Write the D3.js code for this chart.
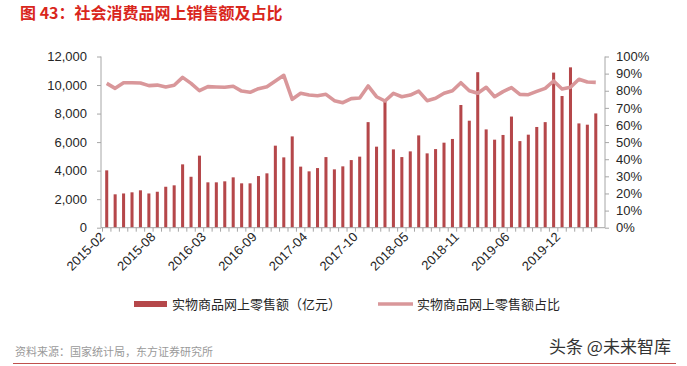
<!DOCTYPE html>
<html><head><meta charset="utf-8">
<script src="https://cdn.jsdelivr.net/npm/d3@7/dist/d3.min.js"></script>
<style>
body{margin:0;background:#fff;}
svg{display:block;font-family:"Liberation Sans",Arial,sans-serif;}
</style></head>
<body>
<svg id="c" width="687" height="366"></svg>
<script>
// ---- data ----
const months = [
 "2015-02","2015-03","2015-04","2015-05","2015-06","2015-07","2015-08","2015-09","2015-10","2015-11","2015-12",
 "2016-02","2016-03","2016-04","2016-05","2016-06","2016-07","2016-08","2016-09","2016-10","2016-11","2016-12",
 "2017-02","2017-03","2017-04","2017-05","2017-06","2017-07","2017-08","2017-09","2017-10","2017-11","2017-12",
 "2018-02","2018-03","2018-04","2018-05","2018-06","2018-07","2018-08","2018-09","2018-10","2018-11","2018-12",
 "2019-02","2019-03","2019-04","2019-05","2019-06","2019-07","2019-08","2019-09","2019-10","2019-11","2019-12",
 "2020-02","2020-03","2020-04","2020-05"];
const salesValues = [
 4020,2340,2400,2480,2620,2400,2520,2870,2970,4440,3570,
 5050,3180,3180,3250,3530,3110,3110,3620,3810,5750,4930,
 6400,4280,3950,4180,4950,4090,4300,4740,4980,7400,5680,
 8950,5490,4950,5350,6470,5210,5510,5960,6220,8600,7500,
 10900,6890,6170,6500,7790,6070,6520,7060,7400,10870,9230,
 11240,7310,7220,8010];
const shareValues = [
 84.3,81.4,84.7,84.7,84.5,83.0,83.3,82.2,83.2,87.8,84.3,
 80.0,82.4,82.2,82.0,82.6,79.8,79.1,81.2,82.4,85.7,89.0,
 75.0,78.5,77.5,77.1,77.9,74.2,73.0,75.4,75.8,82.8,76.5,
 74.0,78.5,76.5,77.5,79.8,74.2,75.6,78.5,80.0,84.7,80.0,
 78.5,82.0,76.5,79.5,81.8,77.9,77.7,79.6,81.4,85.7,81.0,
 82.0,86.7,85.1,84.9];
const leftTicks = [0,2000,4000,6000,8000,10000,12000];
const rightTicks = [0,10,20,30,40,50,60,70,80,90,100];
const labelMonths = ["2015-02","2015-08","2016-03","2016-09","2017-04","2017-10","2018-05","2018-11","2019-06","2019-12"];
const seriesNames = ["实物商品网上零售额（亿元）","实物商品网上零售额占比"];
const titleText = "图 43：社会消费品网上销售额及占比";
const sourceText = "资料来源：国家统计局，东方证券研究所";
const markText = "头条 @未来智库";

// ---- drawing ----
const svg = d3.select("#c");
const barColor = "#b5474a", lineColor = "#d9979a", axisColor = "#a6a6a6", txt = "#262626";
const plotTop = 56.5, plotBottom = 227.7, leftX = 101, rightX = 605;

const x = d3.scaleBand().domain(months).range([102.5, 600]).paddingInner(0.64).paddingOuter(0.32);
const yL = d3.scaleLinear().domain([0,12000]).range([plotBottom, plotTop]);
const yR = d3.scaleLinear().domain([0,100]).range([plotBottom, plotTop]);

// title
svg.append("text").attr("x",20).attr("y",19).attr("fill","#d9261c")
  .attr("font-size",16).attr("font-weight","bold")
  .attr("font-family","'Noto Sans CJK SC','Liberation Sans',sans-serif").text(titleText);

// bars
svg.append("g").selectAll("rect").data(months).join("rect")
  .attr("x", d=>x(d)).attr("width", x.bandwidth())
  .attr("y", (d,i)=>yL(salesValues[i])).attr("height",(d,i)=>plotBottom-yL(salesValues[i]))
  .attr("fill", barColor);

// line
const line = d3.line().x((d,i)=>x(months[i])+x.bandwidth()/2).y(d=>yR(d));
svg.append("path").datum(shareValues).attr("d",line).attr("fill","none")
  .attr("stroke",lineColor).attr("stroke-width",3.6).attr("stroke-linejoin","round");

// left axis
const gl = svg.append("g").attr("transform",`translate(${leftX},0)`)
  .call(d3.axisLeft(yL).tickValues(leftTicks).tickFormat(d3.format(",")).tickSize(4).tickPadding(10));
// right axis
const gr = svg.append("g").attr("transform",`translate(${rightX},0)`)
  .call(d3.axisRight(yR).tickValues(rightTicks).tickFormat(d=>d+"%").tickSize(4).tickPadding(7));
[gl,gr].forEach(g=>{
  g.select(".domain").attr("stroke",axisColor).attr("d",`M0,${plotBottom}V${plotTop}`);
  g.selectAll(".tick line").attr("stroke",axisColor);
  g.selectAll(".tick text").attr("fill",txt).attr("font-size",13);
});

// bottom axis
const gb = svg.append("g").attr("transform",`translate(0,${plotBottom})`)
  .call(d3.axisBottom(x).tickValues(labelMonths).tickSize(0).tickPadding(0));
gb.select(".domain").attr("stroke",axisColor).attr("d",`M${leftX},0H${rightX}`);
gb.selectAll(".tick text").attr("fill",txt).attr("font-size",13)
  .attr("text-anchor","end").attr("dy",0)
  .attr("transform","translate(-1,10) rotate(-45)");
// minor ticks at category boundaries
gb.append("g").selectAll("line").data(months).join("line")
  .attr("x1",d=>x(d)-x.step()*x.paddingInner()/2).attr("x2",d=>x(d)-x.step()*x.paddingInner()/2)
  .attr("y1",0).attr("y2",4).attr("stroke",axisColor);

// legend
const lg = svg.append("g").attr("font-family","'Noto Sans CJK SC','Liberation Sans',sans-serif");
lg.append("rect").attr("x",134).attr("y",301).attr("width",33).attr("height",6).attr("fill",barColor);
lg.append("text").attr("x",172).attr("y",309).attr("font-size",13).attr("fill",txt).text(seriesNames[0]);
lg.append("line").attr("x1",378).attr("x2",413).attr("y1",304).attr("y2",304).attr("stroke",lineColor).attr("stroke-width",3.5);
lg.append("text").attr("x",417).attr("y",309).attr("font-size",13).attr("fill",txt).text(seriesNames[1]);

// footer
svg.append("text").attr("x",15).attr("y",356).attr("font-size",11).attr("fill","#9a9a9a")
  .attr("font-family","'Noto Sans CJK SC',sans-serif").text(sourceText);
svg.append("line").attr("x1",13).attr("x2",676).attr("y1",363.5).attr("y2",363.5).attr("stroke","#c0504d").attr("stroke-width",1);
svg.append("text").attr("x",549).attr("y",353).attr("font-size",17).attr("fill","#333")
  .attr("font-family","'Noto Sans CJK SC',sans-serif").text(markText);
</script>
</body></html>
